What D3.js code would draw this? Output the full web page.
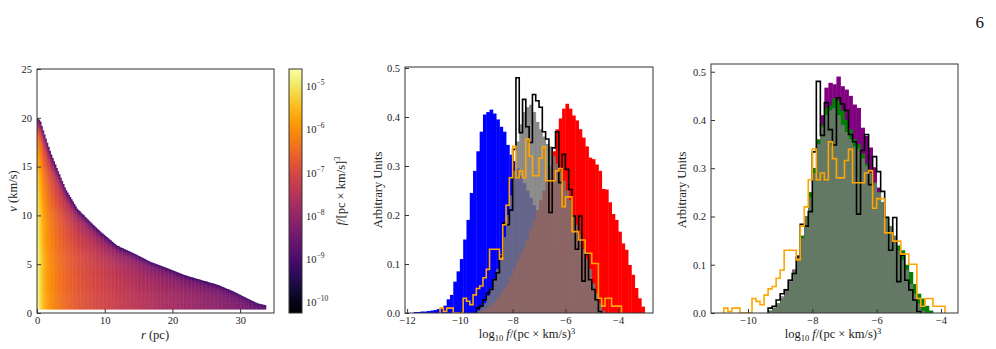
<!DOCTYPE html>
<html lang="en">
<head>
<meta charset="UTF-8">
<title>Distribution function panels</title>
<script src="https://d3js.org/d3.v7.min.js"></script>
<style>
    body { margin: 0; background: #fff; }
    svg { display: block; font-family: "Liberation Serif", "DejaVu Serif", serif; }
    .tick text { font-size: 10.5px; fill: #222; font-family: "Liberation Serif", serif; }
    .tick line { stroke: #333; }
    .lab { font-size: 12.5px; fill: #222; }
    .frame { fill: none; stroke: #333; stroke-width: 1; }
</style>
</head>
<body>
<svg width="996" height="349"></svg>
<script>
// ---- left panel: envelope of the (r, v) scatter and colour read-offs ----
const envR = [0.2, 0.5, 1, 2, 3, 4.2, 5.9, 7.9, 9.4, 11.8, 14.3, 16.7, 19.2, 21.7, 24.1, 26.6, 29, 31, 32.5, 33.7];
const envV = [19.9, 19.6, 18.5, 16.4, 14.7, 12.7, 10.7, 9.3, 8.3, 6.9, 6.1, 5.25, 4.6, 3.9, 3.4, 2.9, 2.2, 1.5, 1.0, 0.8];
// log10 f along the bottom of the cloud (v ~ 0)
const baseR = [0, 0.3, 0.7, 1, 1.5, 2, 3, 4, 5, 7, 10, 14, 18, 22, 26, 30, 34];
const baseLogf = [-4.7, -4.9, -5.3, -5.55, -5.8, -6.0, -6.25, -6.45, -6.6, -6.85, -7.1, -7.4, -7.65, -7.85, -8.05, -8.3, -8.7];
// darkening towards the upper envelope (fraction of the way to the edge value)
const fracU = [0, 0.3, 0.5, 0.6, 0.7, 0.8, 0.9, 0.95, 1];
const fracDark = [0, 0.01, 0.05, 0.08, 0.13, 0.2, 0.32, 0.48, 0.8];
const edgeLogf = -9.6;
const leftXTicks = [0, 10, 20, 30];
const leftYTicks = [0, 5, 10, 15, 20, 25];
const cbarTicks = [-10, -9, -8, -7, -6, -5];

// ---- histograms (bin width 0.125, heights per bin) ----
const binW = 0.125;
const blueStart = -11.75;
const blueH = [0.002,0.002,0.003,0.003,0.004,0.005,0.006,0.008,0.01,0.015,0.028,0.037,0.064,0.085,0.11,0.15,0.19,0.245,0.29,0.33,0.37,0.405,0.41,0.415,0.407,0.395,0.38,0.37,0.343,0.323,0.31,0.295,0.28,0.265,0.25,0.235,0.22,0.2,0.185,0.165,0.15,0.135,0.12,0.105,0.09,0.07,0.05,0.035,0.02,0.01,0.005];
const redStart = -9.25;
const redH = [0.003,0.006,0.01,0.015,0.022,0.03,0.04,0.05,0.06,0.075,0.09,0.105,0.12,0.135,0.15,0.17,0.19,0.21,0.23,0.25,0.27,0.3,0.33,0.375,0.397,0.417,0.427,0.417,0.403,0.393,0.375,0.358,0.34,0.317,0.314,0.303,0.29,0.253,0.252,0.226,0.202,0.19,0.166,0.142,0.129,0.098,0.078,0.051,0.03,0.013];
const grayStart = -9.375;
const grayH = [0.005,0.012,0.02,0.035,0.05,0.07,0.09,0.12,0.155,0.2,0.24,0.29,0.35,0.385,0.41,0.42,0.425,0.41,0.39,0.375,0.36,0.345,0.34,0.32,0.305,0.29,0.27,0.25,0.23,0.2,0.18,0.16,0.13,0.11,0.09,0.06,0.04,0.02,0.005];
const blackStart = -9.375;
const blackH = [0.01,0.014,0.027,0.04,0.048,0.068,0.082,0.116,0.184,0.18,0.21,0.334,0.48,0.368,0.436,0.38,0.348,0.446,0.433,0.42,0.37,0.355,0.205,0.337,0.37,0.266,0.324,0.293,0.252,0.198,0.13,0.198,0.065,0.12,0.068,0.048,0.027,0.003];
const orangeStart = -10.75;
const orangeH = [0.01,0.003,0.01,0.01,0,0,0,0.03,0.024,0.017,0.037,0.05,0.055,0.072,0.089,0.13,0.13,0.13,0.11,0.18,0.22,0.276,0.34,0.276,0.29,0.276,0.355,0.32,0.28,0.28,0.316,0.339,0.27,0.27,0.27,0.29,0.295,0.217,0.237,0.237,0.166,0.166,0.149,0.149,0.122,0.122,0.101,0.101,0.03,0.014,0.03,0.03,0.014,0.014,0.014];
const purpleStart = -9.375;
const purpleH = [0.004,0.01,0.018,0.03,0.045,0.065,0.09,0.12,0.16,0.2,0.25,0.3,0.35,0.41,0.467,0.477,0.474,0.49,0.47,0.463,0.45,0.432,0.425,0.384,0.367,0.343,0.302,0.26,0.22,0.185,0.155,0.125,0.1,0.075,0.055,0.035,0.02,0.01,0.004];
const greenStart = -9.375;
const greenH = [0.005,0.01,0.02,0.03,0.04,0.06,0.085,0.11,0.16,0.2,0.25,0.3,0.36,0.39,0.425,0.43,0.445,0.44,0.42,0.4,0.38,0.36,0.35,0.33,0.31,0.29,0.27,0.25,0.23,0.2,0.18,0.16,0.14,0.13,0.1,0.085,0.06,0.04,0.03,0.015,0.005];
const midXTicks = [-12, -10, -8, -6, -4];
const rightXTicks = [-10, -8, -6, -4];
const histYTicks = [0, 0.1, 0.2, 0.3, 0.4, 0.5];

const svg = d3.select("svg");
const defs = svg.append("defs");

function bins(start, heights) {
    return heights.map((h, i) => ({x0: start + i * binW, x1: start + (i + 1) * binW, h: h}));
}

function frame(x, y) {
    const [x0, x1] = x.range(), [y0, y1] = y.range();
    svg.append("rect").attr("class", "frame")
        .attr("x", x0).attr("y", y1).attr("width", x1 - x0).attr("height", y0 - y1);
}

function axes(x, y, xt, yt, yfmt) {
    const [y0] = y.range(), [x0] = x.range();
    svg.append("g").attr("transform", `translate(0,${y0})`)
        .call(d3.axisBottom(x).tickValues(xt).tickSize(-4).tickPadding(4))
        .call(g => g.select(".domain").remove());
    svg.append("g").attr("transform", `translate(${x0},0)`)
        .call(d3.axisLeft(y).tickValues(yt).tickSize(-4).tickPadding(5).tickFormat(yfmt))
        .call(g => g.select(".domain").remove());
}

function clip(id, x, y) {
    const [x0, x1] = x.range(), [y0, y1] = y.range();
    defs.append("clipPath").attr("id", id).append("rect")
        .attr("x", x0).attr("y", y1).attr("width", x1 - x0).attr("height", y0 - y1);
    return svg.append("g").attr("clip-path", `url(#${id})`);
}

function bars(g, x, y, data, fill, opacity) {
    g.append("g").selectAll("rect").data(data.filter(d => d.h > 0)).join("rect")
        .attr("x", d => x(d.x0))
        .attr("width", d => x(d.x1) - x(d.x0) + 0.4)
        .attr("y", d => y(d.h))
        .attr("height", d => y(0) - y(d.h))
        .attr("fill", fill)
        .attr("fill-opacity", opacity);
}

function step(g, x, y, data, color) {
    const pts = [{x: data[0].x0, h: 0}].concat(data.map(d => ({x: d.x0, h: d.h})), [{x: data[data.length - 1].x1, h: 0}]);
    g.append("path").datum(pts)
        .attr("d", d3.line().x(d => x(d.x)).y(d => y(d.h)).curve(d3.curveStepAfter))
        .attr("fill", "none").attr("stroke", color).attr("stroke-width", 1.6);
}

// ================= left panel =================
const xL = d3.scaleLinear().domain([0, 35]).range([37, 274]);
const yL = d3.scaleLinear().domain([0, 25]).range([313, 69]);
const vmax = d3.scaleLinear().domain(envR).range(envV).clamp(true);
const baseAt = d3.scaleLinear().domain(baseR).range(baseLogf).clamp(true);
const darkAt = d3.scaleLinear().domain(fracU).range(fracDark).clamp(true);
const cbT = d3.scaleLinear().domain([-10.25, -4.6]).range([0, 1]).clamp(true);

const cells = [];
const dr = 0.2, dv = 0.2;
for (let r = 0; r < envR[envR.length - 1]; r += dr) {
    const vm = vmax(r + dr / 2);
    const b = baseAt(r + dr / 2);
    for (let v = 0.4; v < vm; v += dv) {
        const top = Math.min(v + dv, vm);
        const u = (v + top) / 2 / vm;
        const lf = b + (edgeLogf - b) * darkAt(u);
        cells.push({r: r, v: v, top: top, c: d3.interpolateInferno(cbT(lf))});
    }
}
const gL = clip("clipL", xL, yL);
gL.selectAll("rect").data(cells).join("rect")
    .attr("x", d => xL(d.r))
    .attr("width", xL(dr) - xL(0) + 0.4)
    .attr("y", d => yL(d.top))
    .attr("height", d => yL(d.v) - yL(d.top) + 0.4)
    .attr("fill", d => d.c);

axes(xL, yL, leftXTicks, leftYTicks, d3.format("d"));
frame(xL, yL);

// colorbar
const cb = d3.scaleLinear().domain([-10.25, -4.6]).range([313, 69]);
const grad = defs.append("linearGradient").attr("id", "infernoGrad")
    .attr("x1", 0).attr("y1", 1).attr("x2", 0).attr("y2", 0);
d3.range(0, 1.0001, 0.05).forEach(t => {
    grad.append("stop").attr("offset", t).attr("stop-color", d3.interpolateInferno(t));
});
svg.append("rect").attr("x", 289).attr("y", cb(-4.6)).attr("width", 13)
    .attr("height", cb(-10.25) - cb(-4.6)).attr("fill", "url(#infernoGrad)")
    .attr("stroke", "#333").attr("stroke-width", 1);
const cbLab = svg.append("g").selectAll("text").data(cbarTicks).join("text")
    .attr("x", 306).attr("y", d => cb(d) + 4)
    .attr("font-size", "10.5px").attr("fill", "#222");
cbLab.append("tspan").text("10");
cbLab.append("tspan").attr("dy", -5).attr("font-size", "7.5px").text(d => "\u2212" + Math.abs(d));

// left labels
svg.append("text").attr("class", "lab").attr("text-anchor", "middle")
    .attr("transform", "translate(17,191) rotate(-90)")
    .call(t => { t.append("tspan").attr("font-style", "italic").text("v"); t.append("tspan").text(" (km/s)"); });
svg.append("text").attr("class", "lab").attr("text-anchor", "middle")
    .attr("x", 155).attr("y", 339)
    .call(t => { t.append("tspan").attr("font-style", "italic").text("r"); t.append("tspan").text(" (pc)"); });
svg.append("text").attr("class", "lab").attr("text-anchor", "middle")
    .attr("transform", "translate(345,191) rotate(-90)")
    .call(t => {
        t.append("tspan").attr("font-style", "italic").text("f");
        t.append("tspan").text("/[pc \u00d7 km/s]");
        t.append("tspan").attr("dy", -5).attr("font-size", "8.5px").text("3");
    });

// ================= histogram panels =================
function xLabel(cx) {
    svg.append("text").attr("class", "lab").attr("text-anchor", "middle")
        .attr("x", cx).attr("y", 338)
        .call(t => {
            t.append("tspan").text("log");
            t.append("tspan").attr("dy", 3).attr("font-size", "8.5px").text("10");
            t.append("tspan").attr("dy", -3).text(" ");
            t.append("tspan").attr("font-style", "italic").text("f");
            t.append("tspan").text("/(pc \u00d7 km/s)");
            t.append("tspan").attr("dy", -4).attr("font-size", "8.5px").text("3");
        });
}
function yLabel(x) {
    svg.append("text").attr("class", "lab").attr("text-anchor", "middle")
        .attr("transform", `translate(${x},190) rotate(-90)`).text("Arbitrary Units");
}

const grayFill = "#777777", grayAlpha = 0.84;

// middle
const xM = d3.scaleLinear().domain([-12.08, -2.68]).range([405, 653]);
const yM = d3.scaleLinear().domain([0, 0.502]).range([313, 67]);
const gM = clip("clipM", xM, yM);
bars(gM, xM, yM, bins(blueStart, blueH), "blue", 1);
bars(gM, xM, yM, bins(redStart, redH), "red", 1);
bars(gM, xM, yM, bins(grayStart, grayH), grayFill, grayAlpha);
step(gM, xM, yM, bins(blackStart, blackH), "black");
step(gM, xM, yM, bins(orangeStart, orangeH), "orange");
axes(xM, yM, midXTicks, histYTicks, d3.format(".1f"));
frame(xM, yM);
xLabel(527);
yLabel(382);

// right
const xR = d3.scaleLinear().domain([-11.15, -3.47]).range([711, 958]);
const yR = d3.scaleLinear().domain([0, 0.516]).range([313, 64]);
const gR = clip("clipR", xR, yR);
bars(gR, xR, yR, bins(purpleStart, purpleH), "purple", 1);
bars(gR, xR, yR, bins(greenStart, greenH), "green", 1);
bars(gR, xR, yR, bins(grayStart, grayH), grayFill, grayAlpha);
step(gR, xR, yR, bins(blackStart, blackH), "black");
step(gR, xR, yR, bins(orangeStart, orangeH), "orange");
axes(xR, yR, rightXTicks, histYTicks, d3.format(".1f"));
frame(xR, yR);
xLabel(833);
yLabel(686);

// page number
svg.append("text").attr("x", 984).attr("y", 28).attr("text-anchor", "end")
    .attr("font-size", "17px").attr("fill", "#111").text("6");
</script>
</body>
</html>
